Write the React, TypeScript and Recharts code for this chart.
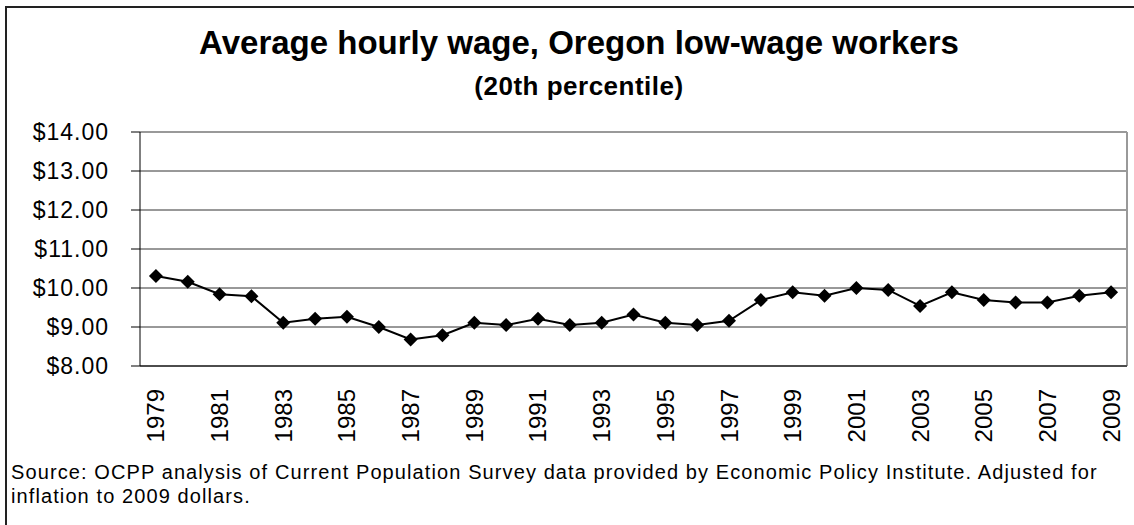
import { LineChart, Line, XAxis, YAxis, CartesianGrid, ReferenceLine } from "recharts";

const years = [
  1979, 1980, 1981, 1982, 1983, 1984, 1985, 1986, 1987, 1988, 1989, 1990, 1991, 1992, 1993, 1994,
  1995, 1996, 1997, 1998, 1999, 2000, 2001, 2002, 2003, 2004, 2005, 2006, 2007, 2008, 2009,
];

const wages = [
  10.31, 10.16, 9.84, 9.79, 9.11, 9.21, 9.26, 9.0, 8.68, 8.79, 9.11, 9.05, 9.21, 9.05, 9.11, 9.32,
  9.11, 9.05, 9.16, 9.69, 9.89, 9.8, 10.0, 9.95, 9.54, 9.89, 9.69, 9.63, 9.63, 9.8, 9.89,
];

const yearLabels = [1979, 1981, 1983, 1985, 1987, 1989, 1991, 1993, 1995, 1997, 1999, 2001, 2003, 2005, 2007, 2009];
const wageTicks = [8, 9, 10, 11, 12, 13, 14];

const title = "Average hourly wage, Oregon low-wage workers";
const subtitle = "(20th percentile)";
const sourceLines = [
  "Source: OCPP analysis of Current Population Survey data provided by Economic Policy Institute. Adjusted for",
  "inflation to 2009 dollars.",
];

const data = years.map((year, i) => ({ year, wage: wages[i] }));
// tick marks sit between the categories, like Excel does
const yearEdges = years.map((y) => y - 0.5).concat(years[years.length - 1] + 0.5);
const xDomain = [yearEdges[0], yearEdges[yearEdges.length - 1]];

const FONT = "'Liberation Sans', Arial, sans-serif";

function Diamond(props: any) {
  const { cx, cy } = props;
  if (cx == null || cy == null) return null;
  const r = 7;
  return <path d={`M${cx},${cy - r}L${cx + r},${cy}L${cx},${cy + r}L${cx - r},${cy}Z`} fill="#000" />;
}

function YearTick(props: any) {
  const { x, y, payload } = props;
  const top = y + 15;
  return (
    <text
      x={x}
      y={top}
      transform={`rotate(-90, ${x}, ${top})`}
      textAnchor="end"
      dy="0.355em"
      fontSize={24}
      fontFamily={FONT}
      fill="#000"
    >
      {payload.value}
    </text>
  );
}

export default function App() {
  return (
    <div
      style={{
        position: "absolute",
        left: 0,
        top: 0,
        width: 1134,
        height: 525,
        background: "#fff",
        overflow: "hidden",
        fontFamily: FONT,
      }}
    >
      <div
        style={{
          position: "absolute",
          left: 5,
          top: 6,
          width: 1140,
          height: 540,
          borderLeft: "2px solid #222",
          borderTop: "2px solid #222",
        }}
      />
      <div
        style={{
          position: "absolute",
          left: 0,
          width: 1158,
          top: 23,
          textAlign: "center",
          fontSize: 33,
          fontWeight: "bold",
          lineHeight: "40px",
          whiteSpace: "nowrap",
        }}
      >
        {title}
      </div>
      <div
        style={{
          position: "absolute",
          left: 0,
          width: 1158,
          top: 70,
          textAlign: "center",
          fontSize: 26,
          fontWeight: "bold",
          letterSpacing: 0.5,
          lineHeight: "32px",
          whiteSpace: "nowrap",
        }}
      >
        {subtitle}
      </div>

      <div style={{ position: "absolute", left: 0, top: 0 }}>
        <LineChart width={1134} height={525} data={data} margin={{ top: 132, right: 7, left: 0, bottom: 71 }}>
          <CartesianGrid vertical={false} stroke="#333" strokeWidth={1} />
          <XAxis
            xAxisId={0}
            type="number"
            dataKey="year"
            domain={xDomain}
            ticks={yearEdges}
            tick={false}
            tickSize={8}
            height={8}
            axisLine={{ stroke: "#000", strokeWidth: 1 }}
            tickLine={{ stroke: "#000", strokeWidth: 1 }}
          />
          <XAxis
            xAxisId="labels"
            type="number"
            dataKey="year"
            domain={xDomain}
            ticks={yearLabels}
            interval={0}
            tick={<YearTick />}
            tickSize={0}
            tickMargin={0}
            height={80}
            axisLine={false}
            tickLine={false}
          />
          <YAxis
            width={140}
            domain={[8, 14]}
            ticks={wageTicks}
            interval={0}
            tickSize={9}
            tickMargin={22}
            tickFormatter={(v: number) => `$${v.toFixed(2)}`}
            tick={{ fill: "#000", fontSize: 23, fontFamily: FONT, letterSpacing: 1 }}
            axisLine={{ stroke: "#000", strokeWidth: 1 }}
            tickLine={{ stroke: "#000", strokeWidth: 1 }}
          />
          <ReferenceLine y={14} stroke="#999" strokeWidth={2} />
          <ReferenceLine x={xDomain[1]} stroke="#999" strokeWidth={2} />
          <Line
            type="linear"
            dataKey="wage"
            stroke="#000"
            strokeWidth={2}
            dot={<Diamond />}
            activeDot={false}
            isAnimationActive={false}
          />
        </LineChart>
      </div>

      <div
        style={{
          position: "absolute",
          left: 11,
          top: 460,
          fontSize: 20,
          letterSpacing: 1.1,
          lineHeight: "24px",
          whiteSpace: "nowrap",
        }}
      >
        {sourceLines.map((l) => (
          <div key={l}>{l}</div>
        ))}
      </div>
    </div>
  );
}
